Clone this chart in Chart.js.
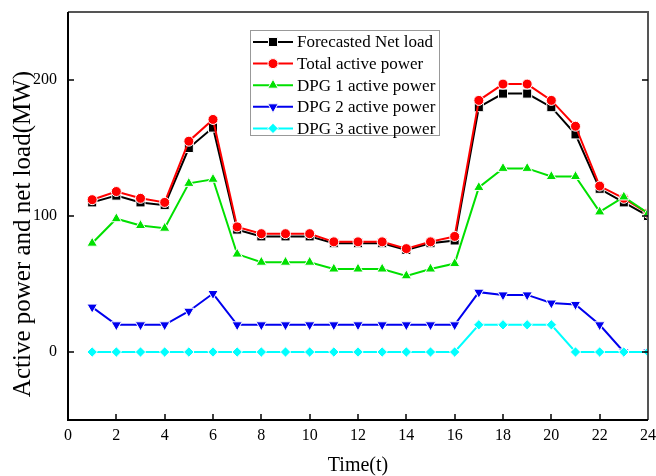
<!DOCTYPE html>
<html>
<head>
<meta charset="utf-8">
<script src="https://cdn.jsdelivr.net/npm/chart.js@4.4.1/dist/chart.umd.min.js"></script>
<style>
  html, body { margin: 0; padding: 0; background: #fff; }
  #wrap { width: 656px; height: 476px; }
</style>
</head>
<body>
<div id="wrap"><canvas id="chart" width="656" height="476"></canvas></div>
<script>
// hours of the day
const hours = [1, 2, 3, 4, 5, 6, 7, 8, 9, 10, 11, 12, 13, 14, 15, 16, 17, 18, 19, 20, 21, 22, 23, 24]
const xTicks = [0, 2, 4, 6, 8, 10, 12, 14, 16, 18, 20, 22, 24]
const yTicks = [0, 100, 200]

// values (MW)
const netLoad = [110, 115, 110, 108, 150, 165, 90, 85, 85, 85, 80, 80, 80, 75, 80, 82, 180, 190, 190, 180, 160, 120, 110, 100]
const totalPower = [112, 118, 113, 110, 155, 171, 92, 87, 87, 87, 81, 81, 81, 76, 81, 85, 185, 197, 197, 185, 166, 122, 113, 102]
const dpg1 = [80, 98, 93, 91, 124, 127, 72, 66, 66, 66, 61, 61, 61, 56, 61, 65, 121, 135, 135, 129, 129, 103, 114, 102]
const dpg2 = [33, 20, 20, 20, 30, 43, 20, 20, 20, 20, 20, 20, 20, 20, 20, 20, 44, 42, 42, 36, 35, 20, 0, 0]
const dpg3 = [0, 0, 0, 0, 0, 0, 0, 0, 0, 0, 0, 0, 0, 0, 0, 0, 20, 20, 20, 20, 0, 0, 0, 0]

const FONT = '"Liberation Serif", "Times New Roman", serif'

const pts = arr => hours.map((h, i) => ({ x: h, y: arr[i] }))

function series(label, values, color, style, radius, rotation, order) {
  return {
    label: label,
    data: pts(values),
    borderColor: color,
    backgroundColor: color,
    borderWidth: 2,
    tension: 0,
    pointStyle: style,
    pointRadius: radius,
    pointRotation: rotation,
    pointBackgroundColor: color,
    pointBorderColor: '#fff',
    pointBorderWidth: 1,
    order: order
  }
}

const datasets = [
  series('Forecasted Net load', netLoad, '#000000', 'rect', 6.4, 0, 4),
  series('Total active power', totalPower, '#ff0000', 'circle', 5, 0, 3),
  series('DPG 1 active power', dpg1, '#00e000', 'triangle', 6, 0, 2),
  series('DPG 2 active power', dpg2, '#0000ee', 'triangle', 6, 180, 1),
  series('DPG 3 active power', dpg3, '#00ffff', 'rectRot', 5.2, 0, 0)
]

// box, inward ticks on all the scales
const frame = {
  id: 'frame',
  afterDraw(chart) {
    const { ctx, chartArea: a, scales: { x, y } } = chart
    ctx.save()
    ctx.lineWidth = 2
    ctx.strokeStyle = '#555'
    ctx.beginPath()
    ctx.moveTo(a.left, a.top)
    ctx.lineTo(a.right, a.top)
    ctx.lineTo(a.right, a.bottom)
    ctx.stroke()
    ctx.strokeStyle = '#000'
    ctx.beginPath()
    ctx.moveTo(a.left, a.top)
    ctx.lineTo(a.left, a.bottom)
    ctx.lineTo(a.right, a.bottom)
    ctx.stroke()

    ctx.lineWidth = 1.5
    ctx.beginPath()
    x.ticks.forEach(t => {
      const px = Math.round(x.getPixelForValue(t.value))
      if (px <= a.left + 1 || px >= a.right - 1) return
      ctx.moveTo(px, a.bottom)
      ctx.lineTo(px, a.bottom - 6)
    })
    y.ticks.forEach(t => {
      const py = Math.round(y.getPixelForValue(t.value))
      ctx.moveTo(a.left, py)
      ctx.lineTo(a.left + 6, py)
      ctx.moveTo(a.right, py)
      ctx.lineTo(a.right - 6, py)
    })
    ctx.stroke()

    // y title
    ctx.fillStyle = '#000'
    ctx.font = '25px ' + FONT
    ctx.textAlign = 'center'
    ctx.textBaseline = 'middle'
    ctx.translate(23, 234)
    ctx.rotate(-Math.PI / 2)
    ctx.fillText('Active power and net load(MW)', 0, 0)
    ctx.restore()
  }
}

// legend drawn inside the plot like the original
const legendBox = {
  id: 'legendBox',
  afterDraw(chart) {
    const ctx = chart.ctx
    const bx = 250, by = 30, bw = 189, bh = 105
    ctx.save()
    ctx.fillStyle = '#fff'
    ctx.fillRect(bx, by, bw, bh)
    ctx.strokeStyle = '#999'
    ctx.lineWidth = 1
    ctx.strokeRect(bx + 0.5, by + 0.5, bw, bh)
    ctx.font = '17px ' + FONT
    ctx.textBaseline = 'middle'
    ctx.textAlign = 'left'
    chart.data.datasets.forEach((ds, i) => {
      const ry = by + 12 + i * 21.6
      ctx.strokeStyle = ds.borderColor
      ctx.lineWidth = 2
      ctx.beginPath()
      ctx.moveTo(bx + 3, ry)
      ctx.lineTo(bx + 43, ry)
      ctx.stroke()
      ctx.fillStyle = ds.borderColor
      ctx.strokeStyle = '#fff'
      ctx.lineWidth = 1
      Chart.helpers.drawPoint(ctx, {
        pointStyle: ds.pointStyle,
        radius: ds.pointRadius,
        rotation: ds.pointRotation,
        borderWidth: 1
      }, bx + 23, ry)
      ctx.fillStyle = '#000'
      ctx.fillText(ds.label, bx + 47, ry + 1)
    })
    ctx.restore()
  }
}

new Chart(document.getElementById('chart').getContext('2d'), {
  type: 'line',
  data: { datasets: datasets },
  options: {
    responsive: false,
    animation: false,
    layout: { padding: { top: 12, right: 8, left: 0, bottom: 0 } },
    plugins: {
      legend: { display: false },
      tooltip: { enabled: false }
    },
    scales: {
      x: {
        type: 'linear',
        min: 0,
        max: 24,
        afterBuildTicks: scale => { scale.ticks = xTicks.map(v => ({ value: v })) },
        afterFit: scale => {
          scale.height = 56
          scale.paddingLeft = 0
          scale.paddingRight = 0
        },
        grid: { display: false, drawTicks: false },
        border: { display: false },
        ticks: { color: '#000', padding: 6, font: { family: FONT, size: 16 } },
        title: {
          display: true,
          text: 'Time(t)',
          color: '#000',
          padding: { top: 0, bottom: -2 },
          font: { family: FONT, size: 20 }
        }
      },
      y: {
        min: -50,
        max: 250,
        afterBuildTicks: scale => { scale.ticks = yTicks.map(v => ({ value: v })) },
        afterFit: scale => {
          scale.width = 68
          scale.paddingTop = 0
          scale.paddingBottom = 0
        },
        grid: { display: false, drawTicks: false },
        border: { display: false },
        ticks: { color: '#000', padding: 11, font: { family: FONT, size: 16 } }
      }
    }
  },
  plugins: [frame, legendBox]
})
</script>
</body>
</html>
